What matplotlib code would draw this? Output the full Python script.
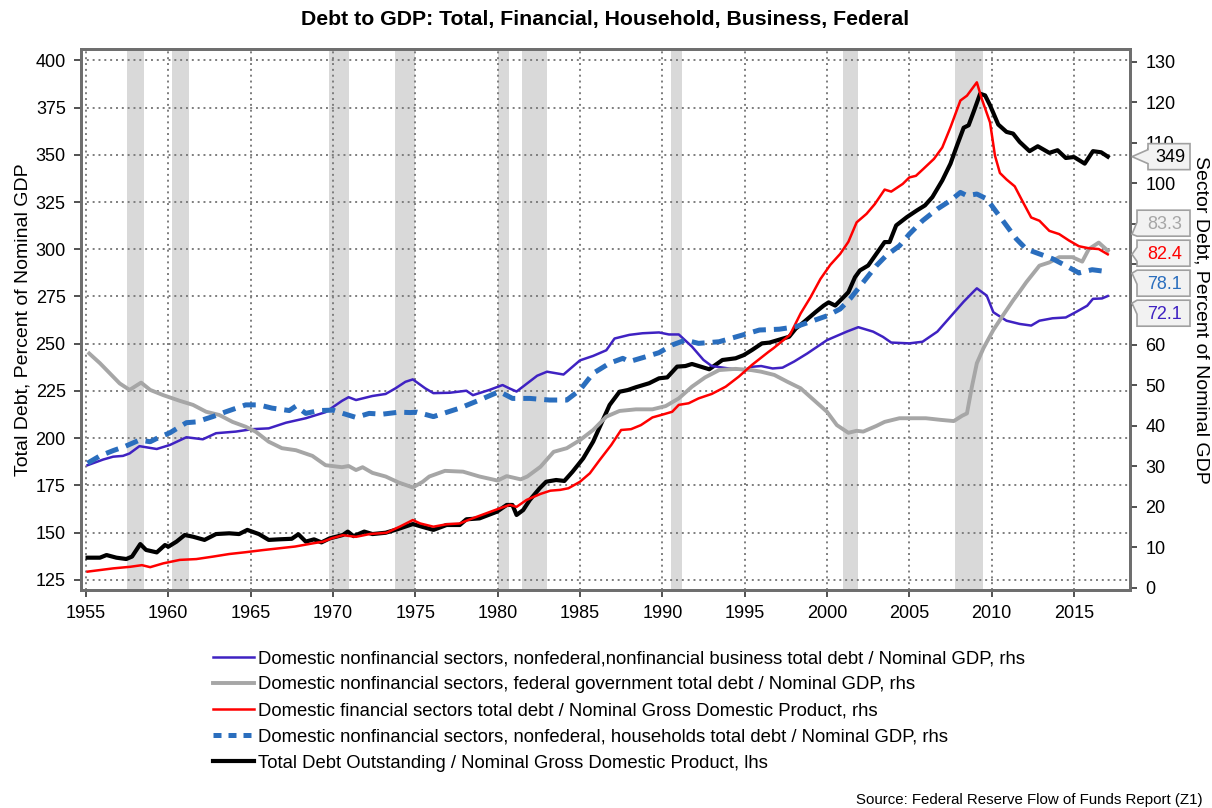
import matplotlib

matplotlib.use("Agg")
import matplotlib.pyplot as plt
from matplotlib.lines import Line2D
from matplotlib.patches import Polygon

plt.rcParams["font.family"] = ["Liberation Sans", "DejaVu Sans"]

W, H = 1212, 808

# ---- data ----
tot_yr = [1955.1, 1955.85, 1956.25, 1956.85, 1957.45, 1957.8, 1958.3, 1958.65, 1959.3, 1959.8,
          1960.0, 1960.5, 1961.0, 1961.5, 1962.2, 1962.9, 1963.7, 1964.3, 1964.8, 1965.5,
          1966.1, 1966.7, 1967.5, 1967.9, 1968.35, 1968.85, 1969.3, 1969.8, 1970.6, 1970.9,
          1971.25, 1971.9, 1972.4, 1973.2, 1973.9, 1974.85, 1975.4, 1976.1, 1976.9, 1977.7,
          1978.1, 1978.9, 1979.95, 1980.55, 1980.9, 1981.15, 1981.55, 1981.95, 1982.55, 1982.95,
          1983.55, 1984.05, 1984.55, 1985.2, 1985.8, 1986.3, 1986.8, 1987.4, 1987.9, 1988.4,
          1989.2, 1989.8, 1990.3, 1990.9, 1991.4, 1991.8, 1992.85, 1993.65, 1994.45, 1994.95,
          1995.45, 1996.05, 1996.5, 1997.7, 1998.1, 1998.6, 1999.3, 1999.8, 2000.1, 2000.5,
          2001.0, 2001.3, 2001.7, 2002.0, 2002.5, 2003.0, 2003.5, 2003.8, 2004.2, 2004.85,
          2005.45, 2005.95, 2006.4, 2007.0, 2007.5, 2007.9, 2008.3, 2008.6, 2008.9, 2009.3,
          2009.6, 2009.9, 2010.4, 2010.9, 2011.3, 2011.7, 2012.3, 2012.8, 2013.5, 2014.0,
          2014.5, 2015.0, 2015.65, 2016.15, 2016.65, 2017.05]
tot_val = [136.8, 136.8, 138.2, 136.8, 136.1, 137.4, 144.0, 140.9, 139.6, 143.5,
           142.6, 145.3, 148.8, 147.9, 146.2, 149.3, 149.7, 149.3, 151.5, 149.3,
           146.2, 146.5, 146.8, 149.2, 145.3, 146.5, 144.9, 147.0, 148.8, 150.6,
           148.2, 150.6, 149.3, 150.0, 151.8, 154.6, 153.2, 151.5, 154.1, 154.1,
           157.1, 157.6, 161.1, 164.7, 164.7, 159.4, 162.0, 167.3, 173.5, 177.0,
           177.9, 177.4, 182.3, 189.4, 198.2, 207.9, 217.6, 224.6, 225.5, 227.0,
           229.1, 231.7, 232.2, 237.9, 238.2, 239.3, 236.5, 241.4, 242.3, 244.0,
           246.7, 250.2, 250.6, 253.7, 258.0, 261.5, 266.7, 270.2, 271.9, 270.2,
           274.6, 277.3, 285.2, 288.8, 291.4, 297.6, 303.8, 303.8, 312.6, 317.0,
           320.5, 323.2, 327.6, 336.4, 345.3, 355.0, 364.3, 365.6, 372.6, 382.3,
           381.4, 376.2, 366.0, 362.1, 361.2, 356.8, 351.9, 354.5, 351.0, 352.4,
           348.3, 348.8, 345.3, 351.9, 351.3, 349.0]

fin_yr = [1955.1, 1956.65, 1957.7, 1958.4, 1958.9, 1959.7, 1960.7, 1961.7, 1962.7, 1963.7,
          1964.7, 1965.7, 1966.7, 1967.7, 1968.8, 1969.4, 1969.9, 1970.6, 1971.4, 1972.25,
          1973.25, 1974.05, 1974.85, 1975.3, 1976.1, 1976.9, 1977.7, 1978.3, 1979.3, 1980.1,
          1980.75, 1981.15, 1981.75, 1982.6, 1983.2, 1983.8, 1984.3, 1985.0, 1985.6, 1986.2,
          1986.9, 1987.5, 1988.1, 1988.7, 1989.4, 1990.1, 1990.6, 1991.0, 1991.6, 1992.2,
          1993.0, 1993.85, 1994.65, 1995.45, 1996.45, 1996.75, 1997.75, 1998.4, 1999.0, 1999.6,
          2000.2, 2000.8, 2001.3, 2001.8, 2002.4, 2002.9, 2003.5, 2003.9, 2004.6, 2005.0,
          2005.4, 2005.85, 2006.5, 2007.0, 2007.5, 2008.1, 2008.5, 2009.1, 2009.4, 2009.9,
          2010.2, 2010.5, 2010.9, 2011.4, 2011.9, 2012.4, 2012.9, 2013.5, 2014.1, 2014.7,
          2015.3, 2015.9, 2016.5, 2017.05]
fin_val = [4.0, 4.8, 5.2, 5.6, 5.1, 6.05, 6.9, 7.1, 7.7, 8.35,
           8.8, 9.3, 9.75, 10.2, 11.0, 11.4, 12.2, 13.0, 12.6, 13.3,
           13.6, 15.1, 16.75, 15.9, 15.1, 15.7, 15.9, 16.9, 18.4, 19.6,
           20.5, 20.0, 21.7, 23.2, 24.0, 24.2, 24.6, 26.2, 28.3, 31.6,
           35.3, 39.0, 39.2, 40.2, 42.1, 42.9, 43.5, 45.2, 45.6, 46.8,
           47.9, 49.7, 52.2, 55.1, 58.3, 59.2, 62.5, 67.8, 71.8, 76.3,
           79.8, 82.5, 85.5, 90.3, 92.4, 94.8, 98.4, 97.9, 99.8, 101.4,
           101.8, 103.5, 106.0, 108.8, 113.8, 120.4, 121.6, 124.9, 120.8, 115.0,
           106.8, 102.5, 100.9, 99.2, 95.3, 91.5, 90.7, 88.2, 87.4, 85.8,
           84.4, 83.9, 83.7, 82.4]

hh_yr = [1955.1, 1955.85, 1956.65, 1957.35, 1958.25, 1958.9, 1959.5, 1960.1, 1961.1, 1961.7,
         1962.7, 1963.5, 1964.7, 1965.5, 1966.3, 1967.35, 1967.75, 1968.35, 1969.15, 1970.0,
         1970.6, 1971.4, 1972.2, 1973.0, 1974.0, 1974.7, 1975.1, 1976.1, 1977.7, 1978.9,
         1980.1, 1980.9, 1981.95, 1983.15, 1984.2, 1985.0, 1985.8, 1986.8, 1987.6, 1988.0,
         1989.0, 1989.8, 1990.6, 1991.4, 1992.2, 1993.45, 1994.9, 1995.9, 1997.1, 1998.1,
         1998.6, 2000.0, 2000.8, 2001.4, 2002.2, 2003.0, 2003.6, 2004.4, 2005.0, 2005.8,
         2006.7, 2007.5, 2008.1, 2008.5, 2009.1, 2009.7, 2010.3, 2010.9, 2011.5, 2012.1,
         2012.9, 2013.7, 2014.5, 2015.3, 2016.1, 2017.05]
hh_val = [30.8, 32.6, 33.9, 34.9, 36.5, 36.1, 37.3, 38.3, 40.8, 41.0,
          42.3, 43.5, 45.2, 45.2, 44.4, 43.8, 44.9, 43.1, 43.8, 43.9,
          43.1, 42.1, 43.1, 42.9, 43.4, 43.3, 43.4, 42.3, 44.4, 46.4,
          48.5, 46.8, 46.8, 46.4, 46.4, 48.9, 53.0, 55.5, 56.7, 55.9,
          57.1, 58.1, 60.0, 61.2, 60.4, 60.8, 62.5, 63.7, 63.9, 64.5,
          65.2, 67.2, 68.9, 71.4, 75.5, 79.6, 82.1, 84.5, 87.4, 90.7,
          93.6, 95.7, 97.7, 96.9, 97.3, 96.1, 92.8, 89.5, 86.2, 83.7,
          82.5, 81.3, 79.6, 77.8, 78.6, 78.1]

bus_yr = [1955.1, 1956.05, 1956.65, 1957.25, 1957.65, 1958.25, 1959.3, 1960.1, 1961.1, 1962.1,
          1962.9, 1964.1, 1965.1, 1966.1, 1967.15, 1968.35, 1969.55, 1970.55, 1970.95, 1971.4,
          1972.4, 1973.2, 1973.8, 1974.4, 1974.85, 1975.6, 1976.1, 1977.1, 1978.1, 1978.5,
          1979.5, 1980.3, 1980.7, 1981.15, 1982.4, 1983.0, 1984.0, 1985.0, 1985.8, 1986.6,
          1987.1, 1988.0, 1988.8, 1989.8, 1990.4, 1991.0, 1991.8, 1992.5, 1993.0, 1994.2,
          1995.0, 1995.4, 1996.0, 1996.7, 1997.3, 1998.0, 1998.8, 2000.0, 2001.2, 2001.9,
          2002.8, 2003.4, 2003.9, 2005.0, 2005.8, 2006.7, 2007.5, 2008.3, 2008.9, 2009.1,
          2009.7, 2010.1, 2010.9, 2011.7, 2012.4, 2012.9, 2013.7, 2014.5, 2015.1, 2015.8,
          2016.15, 2016.7, 2017.05]
bus_val = [30.3, 31.7, 32.4, 32.6, 33.2, 35.0, 34.3, 35.3, 37.2, 36.7,
           38.2, 38.6, 39.2, 39.4, 40.8, 41.9, 43.4, 46.2, 47.1, 46.4,
           47.4, 47.9, 49.3, 50.9, 51.5, 49.3, 48.1, 48.2, 48.7, 47.6,
           48.9, 50.1, 49.3, 48.5, 52.4, 53.4, 52.7, 56.2, 57.3, 58.7,
           61.6, 62.5, 62.9, 63.1, 62.6, 62.6, 59.6, 56.3, 54.8, 54.1,
           53.8, 54.6, 54.8, 54.2, 54.4, 55.9, 57.9, 61.2, 63.3, 64.4,
           63.3, 62.0, 60.6, 60.4, 60.8, 63.3, 67.0, 70.7, 73.2, 74.0,
           72.2, 68.1, 66.0, 65.2, 64.8, 66.0, 66.6, 66.8, 68.1, 69.7,
           71.4, 71.5, 72.1]

fed_yr = [1955.2, 1955.85, 1956.45, 1957.05, 1957.65, 1958.35, 1958.9, 1959.7, 1960.7, 1961.5,
          1962.3, 1963.1, 1963.9, 1964.7, 1965.3, 1966.1, 1966.9, 1967.75, 1968.75, 1969.55,
          1970.55, 1970.95, 1971.4, 1971.8, 1972.4, 1973.2, 1974.0, 1974.85, 1975.45, 1975.85,
          1976.8, 1977.9, 1978.9, 1980.0, 1980.55, 1981.4, 1981.8, 1982.6, 1983.4, 1984.2,
          1985.0, 1985.8, 1986.6, 1987.4, 1988.4, 1989.4, 1990.2, 1991.0, 1991.8, 1992.6,
          1993.45, 1994.45, 1995.4, 1996.0, 1996.8, 1997.6, 1998.4, 1999.2, 2000.0, 2000.6,
          2001.3, 2001.8, 2002.2, 2003.0, 2003.5, 2004.4, 2005.2, 2006.0, 2006.9, 2007.7,
          2008.2, 2008.5, 2008.8, 2009.1, 2009.5, 2010.1, 2010.7, 2011.3, 2011.7, 2012.1,
          2012.9, 2013.5, 2014.1, 2014.9, 2015.5, 2015.9, 2016.5, 2017.05]
fed_val = [57.9, 55.5, 53.0, 50.5, 48.9, 50.7, 48.9, 47.6, 46.2, 45.2,
           43.5, 42.7, 41.0, 39.8, 38.6, 36.1, 34.5, 34.0, 32.6, 30.3,
           29.8, 30.1, 29.1, 29.8, 28.4, 27.5, 26.0, 24.8, 26.2, 27.5,
           28.9, 28.7, 27.5, 26.5, 27.6, 26.8, 27.5, 29.9, 33.6, 34.5,
           36.5, 39.0, 42.3, 43.7, 44.1, 44.1, 44.9, 46.8, 49.7, 52.0,
           53.8, 54.1, 53.8, 53.4, 52.6, 50.9, 49.3, 46.4, 43.5, 40.2,
           38.3, 38.8, 38.6, 40.0, 41.0, 41.9, 41.9, 41.9, 41.5, 41.2,
           42.5, 43.1, 49.7, 55.5, 59.2, 63.7, 67.4, 71.0, 73.2, 75.5,
           79.6, 80.4, 81.7, 81.7, 80.6, 83.7, 85.3, 83.3]

rec_start = [1957.5, 1960.25, 1969.75, 1973.75, 1980.0, 1981.5, 1990.5, 2000.95, 2007.75]
rec_end = [1958.5, 1961.25, 1971.0, 1975.0, 1980.7, 1983.0, 1991.2, 2001.9, 2009.5]

labels = [
    "Domestic nonfinancial sectors, nonfederal,nonfinancial business total debt / Nominal GDP, rhs",
    "Domestic nonfinancial sectors, federal government total debt / Nominal GDP, rhs",
    "Domestic financial sectors total debt / Nominal Gross Domestic Product, rhs",
    "Domestic nonfinancial sectors, nonfederal, households total debt / Nominal GDP, rhs",
    "Total Debt Outstanding / Nominal Gross Domestic Product, lhs",
]

PURPLE = "#3f22c2"
GRAY = "#a6a6a6"
RED = "#ff0000"
BLUE = "#2a6ebe"
BLACK = "#000000"
SPINE = "#6e6e6e"
GRIDC = "#7d7d7d"

fig = plt.figure(figsize=(W / 100, H / 100), dpi=100)
ax = fig.add_axes([81 / W, (H - 590) / H, (1130 - 81) / W, (590 - 49.3) / H])
ax2 = ax.twinx()

for a, b in zip(rec_start, rec_end):
    ax.axvspan(a, b, color="#d9d9d9", lw=0, zorder=0)

ax.plot(tot_yr, tot_val, color=BLACK, lw=3.0, zorder=3)
ax2.plot(bus_yr, bus_val, color=PURPLE, lw=1.8)
ax2.plot(fed_yr, fed_val, color=GRAY, lw=2.8)
ax2.plot(fin_yr, fin_val, color=RED, lw=1.8)
ax2.plot(hh_yr, hh_val, color=BLUE, lw=3.6, dashes=(2.6, 1.6))

ax.set_xlim(1954.7, 2018.4)
ax.set_ylim(119.7, 405.8)
ax2.set_ylim(-0.54, 133.06)
ax.set_xticks(range(1955, 2016, 5))
ax.set_yticks(range(125, 401, 25))
rticks = list(range(0, 131, 10))
ax2.set_yticks(rticks)
# 70/80/90 sit behind the value call-outs, as in the reference
ax2.set_yticklabels(["" if t in (70, 80, 90) else str(t) for t in rticks])

ax.set_axisbelow(True)
ax.grid(True, color=GRIDC, lw=1.4, dashes=(1, 2))

for a in (ax, ax2):
    for s in a.spines.values():
        s.set_color(SPINE)
        s.set_linewidth(2.0)
    a.tick_params(direction="out", length=5, width=1.2, color="#333333",
                  labelsize=13, pad=6)

ax.set_ylabel("Total Debt, Percent of Nominal GDP", fontsize=14, va="center")
ax.yaxis.set_label_coords((23 - 81) / (1130 - 81), 0.5)
ax2.set_ylabel("Sector Debt, Percent of Nominal GDP", fontsize=14, rotation=270,
               va="center")
ax2.yaxis.set_label_coords((1201 - 81) / (1130 - 81), 0.5)

fig.text(605 / W, 1 - 20 / H, "Debt to GDP: Total, Financial, Household, Business, Federal",
         ha="center", va="center", fontsize=15.3, fontweight="bold")
fig.text(1203 / W, 1 - 800 / H, "Source: Federal Reserve Flow of Funds Report (Z1)",
         ha="right", va="center", fontsize=10.8)

handles = [
    Line2D([], [], color=PURPLE, lw=1.8),
    Line2D([], [], color=GRAY, lw=2.8),
    Line2D([], [], color=RED, lw=1.8),
    Line2D([], [], color=BLUE, lw=3.6, dashes=(1.6, 1.4)),
    Line2D([], [], color=BLACK, lw=3.0),
]
fig.legend(handles, labels, loc="upper left", bbox_to_anchor=(213 / W, 1 - 650 / H),
           frameon=False, fontsize=13.3, handlelength=2.2, handletextpad=0.25,
           labelspacing=0.5, borderpad=0, borderaxespad=0)

# ---- value call-out boxes at the right edge ----
over = fig.add_axes([0, 0, 1, 1], zorder=10)
over.set_xlim(0, W)
over.set_ylim(H, 0)
over.axis("off")


def to_px(axes, v):
    return H - axes.transData.transform((2017, v))[1]


def callout(txt, color, tip_y, center):
    h = 26
    w = 11 * len(txt) + 9
    x1 = 1190
    x0 = x1 - w
    top, bot = center - h / 2, center + h / 2
    ty = min(max(tip_y, top + 3), bot - 2)
    bc = min(max(ty, top + 7), bot - 7)
    pts = [(x0, top), (x1, top), (x1, bot), (x0, bot), (x0, bc + 7), (1132, ty), (x0, bc - 7)]
    over.add_patch(Polygon(pts, closed=True, facecolor="#f2f2f2", edgecolor="#a0a0a0", lw=1.2))
    over.text((x0 + x1) / 2 + 1, center + 1, txt, ha="center", va="center",
              color=color, fontsize=13)


def stack(targets, gap):
    groups = [[t] for t in targets]
    while True:
        pos = []
        for g in groups:
            m = sum(g) / len(g)
            pos.append([m + (i - (len(g) - 1) / 2) * gap for i in range(len(g))])
        merged = False
        for k in range(len(groups) - 1):
            if pos[k][-1] + gap > pos[k + 1][0]:
                groups[k] = groups[k] + groups.pop(k + 1)
                merged = True
                break
        if not merged:
            return [p for grp in pos for p in grp]


y349 = to_px(ax, tot_val[-1])
callout(f"{tot_val[-1]:.0f}", BLACK, y349, y349)

ends = sorted([(fed_val[-1], GRAY), (fin_val[-1], RED), (hh_val[-1], BLUE), (bus_val[-1], PURPLE)],
              reverse=True)
tips = [to_px(ax2, v) for v, _ in ends]
for (v, c), t, cy in zip(ends, tips, stack(tips, 30)):
    callout(f"{v:.1f}", c, t, cy)

fig.savefig("out.png", dpi=100)
